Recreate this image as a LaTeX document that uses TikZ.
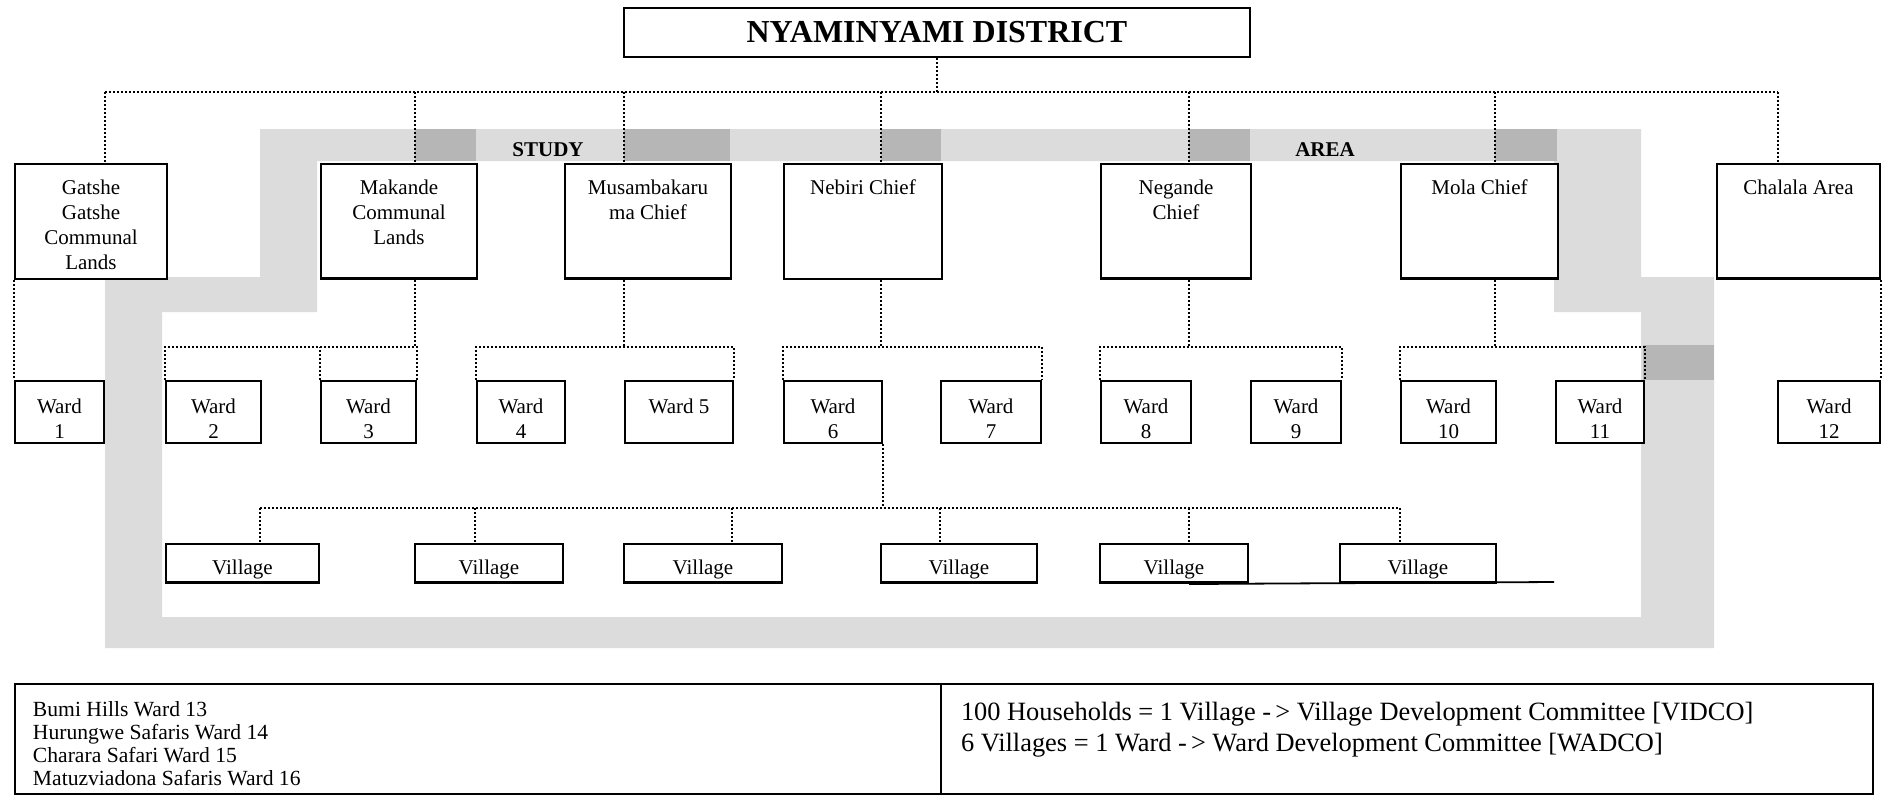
\documentclass[tikz,border=0pt]{standalone}
\usepackage{fontspec}
\setmainfont{Liberation Serif}
\definecolor{bandlight}{RGB}{220,220,220}
\definecolor{banddark}{RGB}{182,182,182}
\newcommand{\bxt}[4]{\parbox[c][#2][t]{#1}{\centering\fontsize{10.5}{12.5}\selectfont\rule{0pt}{#3}#4}}
\begin{document}
\begin{tikzpicture}[x=0.5pt,y=-0.5pt,
  bx/.style={draw, line width=1pt, fill=white, inner sep=0pt, anchor=north west},
  con/.style={line width=0.9pt, dash pattern=on 1pt off 1pt},
  thickbot/.style={line width=1.6pt},
  tag/.style={font=\bfseries\fontsize{10.5}{12}\selectfont, inner sep=0pt}]
\fill[white] (0,0) rectangle (1886,794);
\useasboundingbox (0,0) rectangle (1886,794);

% study area band
\fill[bandlight, even odd rule]
  (260,129) -- (1641,129) -- (1641,277) -- (1714,277) -- (1714,648) -- (105,648) -- (105,277) -- (260,277) -- cycle
  (317,161) -- (1554,161) -- (1554,312) -- (1641,312) -- (1641,617) -- (162,617) -- (162,312) -- (317,312) -- cycle;
\fill[banddark] (415,129) rectangle (476,161);
\fill[banddark] (624,129) rectangle (730,161);
\fill[banddark] (881,129) rectangle (941,161);
\fill[banddark] (1189,129) rectangle (1250,161);
\fill[banddark] (1495,129) rectangle (1557,161);
\fill[banddark] (1643,345) rectangle (1714,380);
\node[tag] (study) at (548,150) {STUDY};
\node[tag] (area) at (1325,150) {AREA};

% title
\node[draw, line width=1pt, fill=white, minimum width=313pt, minimum height=24.5pt, inner sep=0pt,
  font=\bfseries\fontsize{16}{18}\selectfont] (title) at (937,32.5) {\raisebox{-2.25pt}{NYAMINYAMI DISTRICT}};

% chiefs
\node[bx] (gat) at (14,163) {\bxt{76pt}{57.5pt}{15pt}{Gatshe\\Gatshe\\Communal\\Lands}};
\node[bx] (mak) at (320,163) {\bxt{78pt}{57.5pt}{15pt}{Makande\\Communal\\Lands}};
\node[bx] (mus) at (564,163) {\bxt{83pt}{57.5pt}{15pt}{Musambakaru\\ma Chief}};
\node[bx] (neb) at (783,163) {\bxt{79pt}{57.5pt}{15pt}{Nebiri Chief}};
\node[bx] (neg) at (1100,163) {\bxt{75pt}{57.5pt}{15pt}{Negande\\Chief}};
\node[bx] (mol) at (1400,163) {\bxt{78.5pt}{57.5pt}{15pt}{Mola Chief}};
\node[bx] (cha) at (1716,163) {\bxt{81.5pt}{57.5pt}{15pt}{Chalala Area}};

% wards
\node[bx] (w1) at (14,380) {\bxt{44.5pt}{31pt}{16pt}{Ward\\1}};
\node[bx] (w2) at (165,380) {\bxt{47.5pt}{31pt}{16pt}{Ward\\2}};
\node[bx] (w3) at (320,380) {\bxt{47.5pt}{31pt}{16pt}{Ward\\3}};
\node[bx] (w4) at (476,380) {\bxt{44pt}{31pt}{16pt}{Ward\\4}};
\node[bx] (w5) at (624,380) {\bxt{54pt}{31pt}{16pt}{Ward 5}};
\node[bx] (w6) at (783,380) {\bxt{49pt}{31pt}{16pt}{Ward\\6}};
\node[bx] (w7) at (940,380) {\bxt{50pt}{31pt}{16pt}{Ward\\7}};
\node[bx] (w8) at (1100,380) {\bxt{45pt}{31pt}{16pt}{Ward\\8}};
\node[bx] (w9) at (1250,380) {\bxt{45pt}{31pt}{16pt}{Ward\\9}};
\node[bx] (w10) at (1400,380) {\bxt{47.5pt}{31pt}{16pt}{Ward\\10}};
\node[bx] (w11) at (1555,380) {\bxt{44pt}{31pt}{16pt}{Ward\\11}};
\node[bx] (w12) at (1777,380) {\bxt{51pt}{31pt}{16pt}{Ward\\12}};

% villages
\node[bx] (v1) at (165,543) {\bxt{76.5pt}{19.5pt}{15pt}{Village}};
\node[bx] (v2) at (414,543) {\bxt{74pt}{19.5pt}{15pt}{Village}};
\node[bx] (v3) at (623,543) {\bxt{79pt}{19.5pt}{15pt}{Village}};
\node[bx] (v4) at (880,543) {\bxt{78pt}{19.5pt}{15pt}{Village}};
\node[bx] (v5) at (1099,543) {\bxt{74pt}{19.5pt}{15pt}{Village}};
\node[bx] (v6) at (1339,543) {\bxt{78pt}{19.5pt}{15pt}{Village}};

\foreach \n in {mak,mus,neg,mol,cha,v1,v2,v3,v4,v5,v6}
  \draw[thickbot] ([yshift=0.6pt]\n.south west) -- ([yshift=0.6pt]\n.south east);

% district bus
\coordinate (d1) at (105,92);
\coordinate (d2) at (415,92);
\coordinate (d3) at (624,92);
\coordinate (d4) at (881,92);
\coordinate (d5) at (1189,92);
\coordinate (d6) at (1495,92);
\coordinate (d7) at (1778,92);
\draw[con] (title.south) -- (title.south |- d1);
\draw[con] (d1) -- (d7);
\draw[con] (d1) -- (d1 |- gat.north);
\draw[con] (d2) -- (d2 |- mak.north);
\draw[con] (d3) -- (d3 |- mus.north);
\draw[con] (d4) -- (d4 |- neb.north);
\draw[con] (d5) -- (d5 |- neg.north);
\draw[con] (d6) -- (d6 |- mol.north);
\draw[con] (d7) -- (d7 |- cha.north);

% ward buses
\coordinate (k2) at (415,347);
\coordinate (k3) at (624,347);
\coordinate (k4) at (881,347);
\coordinate (k5) at (1189,347);
\coordinate (k6) at (1495,347);
\draw[con] (gat.south west) -- (w1.north west);
\draw[con] (mak.south -| k2) -- (k2);
\draw[con] (w2.north west) |- (w3.north east |- k2) -- (w3.north east);
\draw[con] (w3.north west) -- (w3.north west |- k2);
\draw[con] (mus.south -| k3) -- (k3);
\draw[con] (w4.north west) |- (w5.north east |- k3) -- (w5.north east);
\draw[con] (neb.south -| k4) -- (k4);
\draw[con] (w6.north west) |- (w7.north east |- k4) -- (w7.north east);
\draw[con] (neg.south -| k5) -- (k5);
\draw[con] (w8.north west) |- (w9.north east |- k5) -- (w9.north east);
\draw[con] (mol.south -| k6) -- (k6);
\draw[con] (w10.north west) |- (w11.north east |- k6) -- (w11.north east);
\draw[con] (cha.south east) -- (w12.north east);

% village bus
\coordinate (vx1) at (260,508);
\coordinate (vx2) at (475,508);
\coordinate (vx3) at (732,508);
\coordinate (vx4) at (940,508);
\coordinate (vx5) at (1189,508);
\coordinate (vx6) at (1400,508);
\draw[con] (w6.south east) -- (w6.south east |- vx1);
\draw[con] (vx1) -- (vx6);
\draw[con] (vx1) -- (vx1 |- v1.north);
\draw[con] (vx2) -- (vx2 |- v2.north);
\draw[con] (vx3) -- (vx3 |- v3.north);
\draw[con] (vx4) -- (vx4 |- v4.north);
\draw[con] (vx5) -- (vx5 |- v5.north);
\draw[con] (vx6) -- (vx6 |- v6.north);
\coordinate (lnend) at (1554,582);
\draw[line width=0.9pt] (v5.south -| vx5) -- (lnend);

% legend
\node[bx] (leg1) at (14,683) {\parbox[c][55pt][t]{463pt}{\raggedright\leftskip=9pt\fontsize{10.8}{11.65}\selectfont\rule{0pt}{16pt}Bumi Hills Ward 13\\Hurungwe Safaris Ward 14\\Charara Safari Ward 15\\Matuzviadona Safaris Ward 16}};
\node[bx] (leg2) at (940,683) {\parbox[c][55pt][t]{466pt}{\raggedright\leftskip=10pt\fontsize{13.2}{15.5}\selectfont\rule{0pt}{18pt}100 Households = 1 Village -\kern2pt> Village Development Committee [VIDCO]\\6 Villages = 1 Ward -\kern2pt> Ward Development Committee [WADCO]}};
\end{tikzpicture}
\end{document}
